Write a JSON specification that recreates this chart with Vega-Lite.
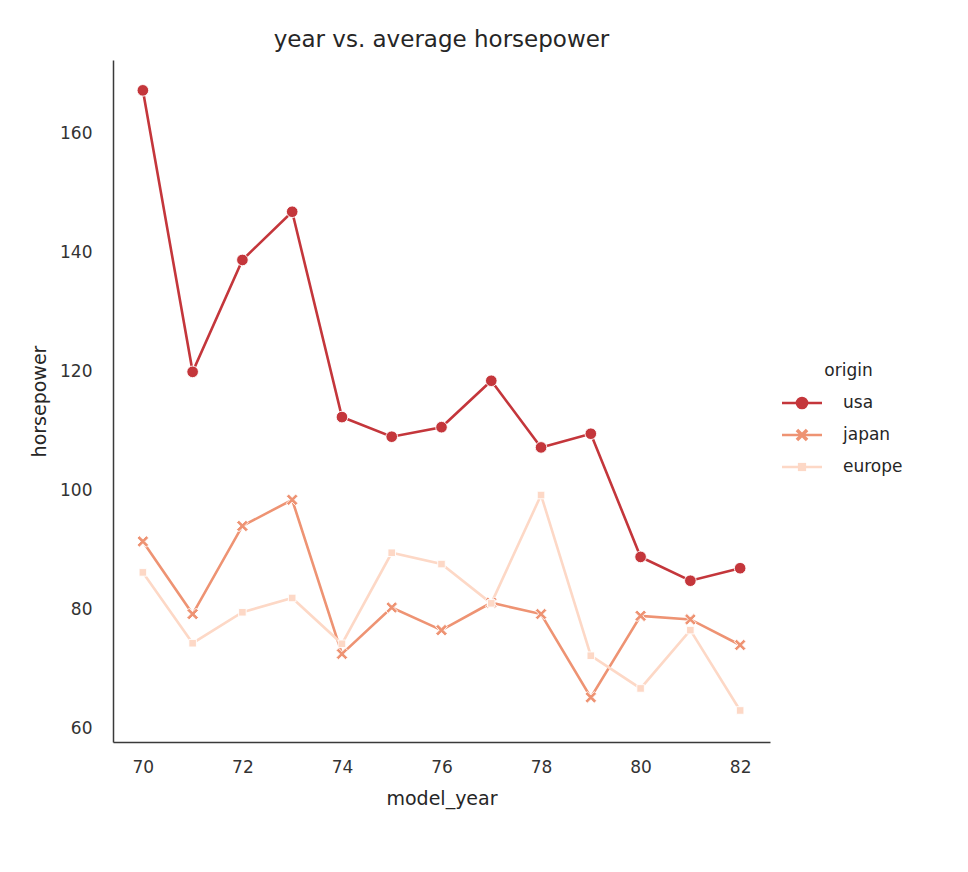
{
  "$schema": "https://vega.github.io/schema/vega-lite/v6.json",
  "width": 657,
  "height": 682,
  "autosize": "none",
  "padding": {"left": 113, "top": 60, "right": 198, "bottom": 130},
  "background": "white",
  "config": {
    "view": {"stroke": null},
    "font": "DejaVu Sans",
    "axis": {
      "grid": false,
      "ticks": false,
      "tickSize": 0,
      "domainColor": "#3a3a3a",
      "domainWidth": 1.5,
      "labelFont": "DejaVu Sans",
      "labelFontSize": 17,
      "labelColor": "#333333",
      "titleFont": "DejaVu Sans",
      "titleFontSize": 19,
      "titleFontWeight": "normal",
      "titleColor": "#262626"
    },
    "legend": {
      "labelFont": "DejaVu Sans",
      "labelFontSize": 17,
      "labelColor": "#262626",
      "titleFont": "DejaVu Sans",
      "titleFontSize": 17,
      "titleFontWeight": "normal",
      "titleColor": "#262626"
    }
  },
  "title": {
    "text": "year vs. average horsepower",
    "font": "DejaVu Sans",
    "fontSize": 23,
    "fontWeight": "normal",
    "color": "#262626",
    "anchor": "middle",
    "baseline": "alphabetic",
    "offset": -10
  },
  "data": {
    "values": [
      {"model_year": 70, "origin": "usa", "horsepower": 167.3},
      {"model_year": 71, "origin": "usa", "horsepower": 120.0},
      {"model_year": 72, "origin": "usa", "horsepower": 138.8},
      {"model_year": 73, "origin": "usa", "horsepower": 146.9},
      {"model_year": 74, "origin": "usa", "horsepower": 112.4},
      {"model_year": 75, "origin": "usa", "horsepower": 109.1},
      {"model_year": 76, "origin": "usa", "horsepower": 110.7},
      {"model_year": 77, "origin": "usa", "horsepower": 118.5},
      {"model_year": 78, "origin": "usa", "horsepower": 107.3},
      {"model_year": 79, "origin": "usa", "horsepower": 109.6},
      {"model_year": 80, "origin": "usa", "horsepower": 88.9},
      {"model_year": 81, "origin": "usa", "horsepower": 84.9},
      {"model_year": 82, "origin": "usa", "horsepower": 87.0},
      {"model_year": 70, "origin": "japan", "horsepower": 91.5},
      {"model_year": 71, "origin": "japan", "horsepower": 79.3},
      {"model_year": 72, "origin": "japan", "horsepower": 94.1},
      {"model_year": 73, "origin": "japan", "horsepower": 98.5},
      {"model_year": 74, "origin": "japan", "horsepower": 72.6},
      {"model_year": 75, "origin": "japan", "horsepower": 80.4},
      {"model_year": 76, "origin": "japan", "horsepower": 76.6},
      {"model_year": 77, "origin": "japan", "horsepower": 81.2},
      {"model_year": 78, "origin": "japan", "horsepower": 79.3},
      {"model_year": 79, "origin": "japan", "horsepower": 65.3},
      {"model_year": 80, "origin": "japan", "horsepower": 79.0},
      {"model_year": 81, "origin": "japan", "horsepower": 78.4},
      {"model_year": 82, "origin": "japan", "horsepower": 74.1},
      {"model_year": 70, "origin": "europe", "horsepower": 86.3},
      {"model_year": 71, "origin": "europe", "horsepower": 74.4},
      {"model_year": 72, "origin": "europe", "horsepower": 79.6},
      {"model_year": 73, "origin": "europe", "horsepower": 82.0},
      {"model_year": 74, "origin": "europe", "horsepower": 74.3},
      {"model_year": 75, "origin": "europe", "horsepower": 89.6},
      {"model_year": 76, "origin": "europe", "horsepower": 87.7},
      {"model_year": 77, "origin": "europe", "horsepower": 81.1},
      {"model_year": 78, "origin": "europe", "horsepower": 99.3},
      {"model_year": 79, "origin": "europe", "horsepower": 72.3},
      {"model_year": 80, "origin": "europe", "horsepower": 66.8},
      {"model_year": 81, "origin": "europe", "horsepower": 76.6},
      {"model_year": 82, "origin": "europe", "horsepower": 63.1}
    ]
  },
  "encoding": {
    "x": {
      "field": "model_year",
      "type": "quantitative",
      "scale": {"domain": [69.4, 82.6], "nice": false, "zero": false},
      "axis": {
        "values": [70, 72, 74, 76, 78, 80, 82],
        "labelPadding": 17.6,
        "title": "model_year",
        "titleBaseline": "alphabetic",
        "titleY": 62
      }
    },
    "y": {
      "field": "horsepower",
      "type": "quantitative",
      "scale": {"domain": [57.8, 172.4], "nice": false, "zero": false},
      "axis": {
        "values": [60, 80, 100, 120, 140, 160],
        "labelPadding": 21,
        "title": "horsepower",
        "titleBaseline": "alphabetic",
        "titleX": -68
      }
    }
  },
  "layer": [
    {
      "mark": {"type": "line", "strokeWidth": 2.6},
      "encoding": {
        "stroke": {
          "field": "origin",
          "type": "nominal",
          "sort": ["usa", "japan", "europe"],
          "scale": {"range": ["#c4363b", "#ee9373", "#fdd8c6"]},
          "legend": {
            "orient": "none",
            "legendX": 680.5,
            "legendY": 302.6,
            "padding": 0,
            "title": "origin",
            "titleOpacity": 0,
            "labelOpacity": 0,
            "titleAnchor": "middle",
            "titlePadding": 14.9,
            "rowPadding": 14,
            "labelOffset": 32.5,
            "symbolType": "M-4,0H4",
            "symbolSize": 100,
            "symbolStrokeWidth": 2.6
          }
        }
      }
    },
    {
      "mark": {"type": "point", "filled": true, "size": 135, "opacity": 1, "stroke": "white", "strokeWidth": 0.9},
      "encoding": {
        "color": {
          "field": "origin",
          "type": "nominal",
          "scale": {"domain": ["usa", "japan", "europe"], "range": ["#c4363b", "#ee9373", "#fdd8c6"]},
          "legend": {
            "orient": "none",
            "legendX": 680.5,
            "legendY": 302.6,
            "padding": 0,
            "title": "origin",
            "titleAnchor": "middle",
            "titlePadding": 14.9,
            "rowPadding": 14,
            "labelOffset": 32.5,
            "symbolSize": 160,
            "symbolStrokeWidth": 0
          }
        },
        "shape": {
          "field": "origin",
          "type": "nominal",
          "scale": {"domain": ["usa", "japan", "europe"], "range": ["circle", "M-1,-0.6L-0.6,-1L0,-0.4L0.6,-1L1,-0.6L0.4,0L1,0.6L0.6,1L0,0.4L-0.6,1L-1,0.6L-0.4,0Z", "M-0.65,-0.65H0.65V0.65H-0.65Z"]},
          "legend": {
            "orient": "none",
            "legendX": 680.5,
            "legendY": 302.6,
            "padding": 0,
            "title": "origin",
            "titleAnchor": "middle",
            "titlePadding": 14.9,
            "rowPadding": 14,
            "labelOffset": 32.5,
            "symbolSize": 160,
            "symbolStrokeWidth": 0
          }
        }
      }
    }
  ]
}
